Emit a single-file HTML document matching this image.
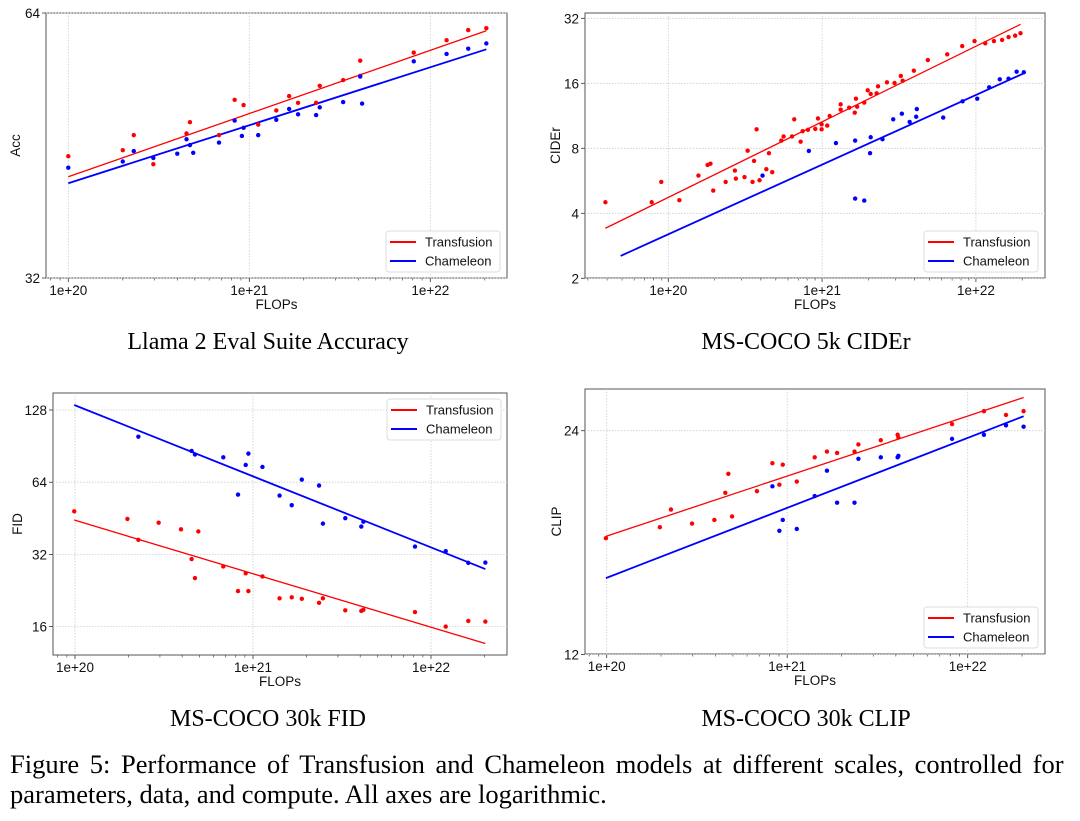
<!DOCTYPE html>
<html><head><meta charset="utf-8"><style>
body{margin:0;background:#fff;}
svg{display:block;font-family:"Liberation Sans",sans-serif;}
.cap{font-family:"Liberation Serif",serif;}
</style></head><body>
<svg id="fig" width="1080" height="821" viewBox="0 0 1080 821" xmlns="http://www.w3.org/2000/svg">
<text class="cap" x="268" y="349" font-size="24" text-anchor="middle">Llama 2 Eval Suite Accuracy</text>
<text class="cap" x="806" y="349" font-size="24" text-anchor="middle">MS-COCO 5k CIDEr</text>
<text class="cap" x="268" y="726" font-size="24" text-anchor="middle">MS-COCO 30k FID</text>
<text class="cap" x="806" y="726" font-size="24" text-anchor="middle">MS-COCO 30k CLIP</text>
<text id="cap1" class="cap" x="10" y="773" font-size="26.5" word-spacing="4">Figure 5:  Performance of Transfusion and Chameleon models at different scales, controlled for</text>
<text class="cap" x="10" y="803" font-size="26.5">parameters, data, and compute. All axes are logarithmic.</text>
</svg>
<script>
// ---- Panel 1: Llama accuracy ----
const accRedX=[1e20,2.0e20,2.3e20,2.95e20,4.5e20,4.7e20,6.8e20,8.3e20,9.3e20,1.12e21,1.41e21,1.66e21,1.86e21,2.34e21,2.45e21,3.3e21,4.1e21,4.1e21,8.1e21,1.23e22,1.62e22,2.04e22];
const accRedY=[44.0,44.7,46.5,43.1,46.7,48.1,46.5,51.0,50.3,47.8,49.6,51.5,50.6,50.6,52.9,53.7,56.5,54.3,57.7,59.6,61.2,61.5];
const accBlueX=[1e20,2.0e20,2.3e20,2.95e20,4.0e20,4.5e20,4.7e20,4.9e20,6.8e20,8.3e20,9.1e20,9.3e20,1.12e21,1.41e21,1.66e21,1.86e21,2.34e21,2.45e21,3.3e21,4.1e21,4.2e21,8.1e21,1.23e22,1.62e22,2.04e22];
const accBlueY=[42.7,43.4,44.6,43.8,44.3,46.0,45.3,44.4,45.6,48.3,46.4,47.4,46.5,48.4,49.8,49.1,49.0,50.0,50.7,54.2,50.5,56.4,57.5,58.3,59.1];
const accFitX=[1e20,2.04e22];
const accFitRed=[41.7,61.1];
const accFitBlue=[41.0,58.2];
const accYTicks=[32,64];
// ---- Panel 2: CIDEr ----
const ciderRedX=[3.9e19,7.8e19,9.0e19,1.18e20,1.57e20,1.80e20,1.88e20,1.96e20,2.36e20,2.71e20,2.75e20,3.13e20,3.28e20,3.53e20,3.61e20,3.75e20,3.92e20,4.34e20,4.51e20,4.74e20,5.43e20,5.62e20,6.37e20,6.59e20,7.25e20,7.47e20,8.09e20,9.03e20,9.4e20,9.93e20,9.93e20,1.08e21,1.12e21,1.32e21,1.32e21,1.50e21,1.63e21,1.66e21,1.69e21,1.88e21,1.98e21,2.07e21,2.26e21,2.31e21,2.64e21,2.96e21,3.25e21,3.34e21,3.95e21,4.87e21,6.51e21,8.15e21,9.8e21,1.15e22,1.31e22,1.48e22,1.63e22,1.80e22,1.95e22];
const ciderRedY=[4.50,4.50,5.59,4.60,5.98,6.70,6.79,5.10,5.59,6.31,5.79,5.89,7.80,5.59,6.99,9.80,5.69,6.40,7.59,6.20,8.69,9.08,9.08,10.9,8.58,9.60,9.74,9.84,11.0,9.80,10.33,10.19,11.29,12.78,12.08,12.34,11.70,13.58,12.47,13.03,14.84,14.28,14.38,15.50,16.17,16.05,17.30,16.46,18.31,20.5,21.8,23.8,25.1,24.5,25.1,25.4,26.2,26.6,27.3];
const ciderBlueX=[4.10e20,8.2e20,1.23e21,1.64e21,1.64e21,1.88e21,2.05e21,2.07e21,2.47e21,2.90e21,3.30e21,3.71e21,4.09e21,4.13e21,6.13e21,8.19e21,1.02e22,1.22e22,1.43e22,1.63e22,1.84e22,2.05e22];
const ciderBlueY=[5.98,7.78,8.46,8.69,4.68,4.58,7.59,9.00,8.81,10.9,11.57,10.6,11.2,12.16,11.1,13.2,13.58,15.33,16.7,16.8,18.1,18.0];
const ciderFitRedX=[3.9e19,1.95e22];
const ciderFitRed=[3.41,30.0];
const ciderFitBlueX=[4.9e19,2.05e22];
const ciderFitBlue=[2.54,17.8];
const ciderYTicks=[2,4,8,16,32];
// ---- Panel 3: FID ----
const fidRedX=[9.9e19,1.97e20,2.27e20,2.95e20,3.94e20,4.52e20,4.72e20,4.93e20,6.81e20,9.1e20,8.24e20,9.42e20,1.13e21,1.41e21,1.65e21,1.88e21,2.35e21,2.47e21,3.30e21,4.06e21,4.17e21,8.13e21,1.21e22,1.62e22,2.02e22];
const fidRedY=[48.4,45.0,36.8,43.4,40.7,30.6,25.5,39.9,28.5,26.7,22.5,22.5,25.9,21.0,21.2,20.9,20.1,21.0,18.7,18.6,18.8,18.4,16.0,16.9,16.8];
const fidBlueX=[2.27e20,4.52e20,4.72e20,6.81e20,9.1e20,9.42e20,1.13e21,8.24e20,1.41e21,1.65e21,1.88e21,2.35e21,2.47e21,3.30e21,4.06e21,4.17e21,8.13e21,1.21e22,1.62e22,2.02e22];
const fidBlueY=[99.1,86.4,83.5,81.3,75.5,84.2,74.1,56.8,56.3,51.3,65.6,62.0,43.0,45.3,41.8,43.8,34.5,33.0,29.5,29.6];
const fidFitX=[9.9e19,2.02e22];
const fidFitRed=[44.5,13.6];
const fidFitBlue=[134.3,27.8];
const fidYTicks=[16,32,64,128];
// ---- Panel 4: CLIP ----
const clipRedX=[9.9e19,1.97e20,2.27e20,2.97e20,3.95e20,4.54e20,4.72e20,4.95e20,6.8e20,8.28e20,9.05e20,9.45e20,1.13e21,1.42e21,1.66e21,1.89e21,2.36e21,2.48e21,3.30e21,4.09e21,4.13e21,8.19e21,1.23e22,1.63e22,2.04e22];
const clipRedY=[17.2,17.8,18.8,18.0,18.2,19.8,21.0,18.4,19.9,21.7,20.3,21.6,20.5,22.1,22.5,22.4,22.5,23.0,23.3,23.7,23.5,24.5,25.5,25.2,25.5];
const clipBlueX=[8.28e20,9.05e20,9.45e20,1.13e21,1.42e21,1.66e21,1.89e21,2.36e21,2.48e21,3.30e21,4.09e21,4.13e21,8.19e21,1.23e22,1.63e22,2.04e22];
const clipBlueY=[20.2,17.6,18.2,17.7,19.6,21.2,19.2,19.2,22.0,22.1,22.1,22.2,23.4,23.7,24.4,24.3];
const clipFitX=[9.9e19,2.04e22];
const clipFitRed=[17.3,26.6];
const clipFitBlue=[15.2,25.1];
const clipYTicks=[12,24];
const xTickExp=[20,21,22];

const NS="http://www.w3.org/2000/svg";
const svg=document.getElementById('fig');
function mk(tag,attrs,parent){const e=document.createElementNS(NS,tag);for(const k in attrs)e.setAttribute(k,attrs[k]);(parent||svg).appendChild(e);return e;}

function panel(c){
  const g=mk('g',{});
  
  
  const xs=f=>c.x20+(Math.log10(f)-20)*c.dec;
  const ys=v=>c.yRefPx-(Math.log2(v)-Math.log2(c.yRef))*c.oct;
  const frame=mk('rect',{x:c.L,y:c.T,width:c.R-c.L,height:c.B-c.T,fill:'#fff',stroke:'#555','stroke-width':1},g);
  
  
  xTickExp.forEach(e=>{
    const px=xs(Math.pow(10,e));
    mk('line',{x1:px,x2:px,y1:c.T,y2:c.B,stroke:'#ccc','stroke-width':0.8,'stroke-dasharray':'1.5,1.5'},g);
    mk('line',{x1:px,x2:px,y1:c.B,y2:c.B+4,stroke:'#333','stroke-width':0.8},g);
    const t=mk('text',{x:px,y:c.B+17,'font-size':13.5,'text-anchor':'middle',fill:'#111'},g);
    t.textContent='1e+'+e;
    
    
  });
  for(let e=19;e<=22;e++)for(let m=2;m<=9;m++){
    const px=xs(m*Math.pow(10,e));
    if(px>c.L&&px<c.R)mk('line',{x1:px,x2:px,y1:c.B,y2:c.B+2.5,stroke:'#333','stroke-width':0.6},g);
  }
  c.yTicks.forEach(v=>{
    const py=ys(v);
    mk('line',{x1:c.L,x2:c.R,y1:py,y2:py,stroke:'#ccc','stroke-width':0.8,'stroke-dasharray':'1.5,1.5'},g);
    mk('line',{x1:c.L-4,x2:c.L,y1:py,y2:py,stroke:'#333','stroke-width':0.8},g);
    const t=mk('text',{x:c.L-6,y:py+5,'font-size':13.5,'text-anchor':'end',fill:'#111'},g);
    t.textContent=String(v);
    
    
  });
  const xl=mk('text',{x:(c.L+c.R)/2,y:c.B+31,'font-size':13.5,'text-anchor':'middle',fill:'#111'},g);
  xl.textContent='FLOPs';
  
  
  const yl=mk('text',{x:0,y:0,'font-size':13.5,'text-anchor':'middle',fill:'#111',transform:`translate(${c.ylx},${(c.T+c.B)/2}) rotate(-90)`},g);
  yl.textContent=c.ylabel;
  
  
  const fr=mk('line',{x1:xs(c.fitRX[0]),y1:ys(c.fitR[0]),x2:xs(c.fitRX[1]),y2:ys(c.fitR[1]),stroke:'#f00','stroke-width':1.3},g);
  
  
  const fb=mk('line',{x1:xs(c.fitBX[0]),y1:ys(c.fitB[0]),x2:xs(c.fitBX[1]),y2:ys(c.fitB[1]),stroke:'#00f','stroke-width':1.8},g);
  
  
  c.rx.forEach((f,i)=>{
    const d=mk('circle',{cx:xs(f),cy:ys(c.ry[i]),r:2.2,fill:'#f00'},g);
    
    
  });
  c.bx.forEach((f,i)=>{
    const d=mk('circle',{cx:xs(f),cy:ys(c.by[i]),r:2.2,fill:'#00f'},g);
    
    
  });
  const lg=mk('g',{},g);
  
  
  mk('rect',{x:c.lgx,y:c.lgy,width:114,height:41,rx:3,fill:'#fff',stroke:'#ddd','stroke-width':1},lg);
  [['Transfusion','#f00'],['Chameleon','#00f']].forEach((p,i)=>{
    const yy=c.lgy+11+i*19;
    mk('line',{x1:c.lgx+4,x2:c.lgx+30,y1:yy,y2:yy,stroke:p[1],'stroke-width':2},lg);
    const t=mk('text',{x:c.lgx+39,y:yy+4.5,'font-size':13,fill:'#111'},lg);
    t.textContent=p[0];
    
    
  });
}

panel({name:'llama-accuracy-chart',L:46,R:507,T:13,B:278,x20:68.3,dec:181,yRef:64,yRefPx:13,oct:265,yTicks:accYTicks,ylabel:'Acc',ylx:20,
  rx:accRedX,ry:accRedY,bx:accBlueX,by:accBlueY,fitRX:accFitX,fitR:accFitRed,fitBX:accFitX,fitB:accFitBlue,lgx:386,lgy:231});
panel({name:'cider-chart',L:585,R:1045,T:13,B:278,x20:668.3,dec:153.8,yRef:32,yRefPx:18.3,oct:65,yTicks:ciderYTicks,ylabel:'CIDEr',ylx:560,
  rx:ciderRedX,ry:ciderRedY,bx:ciderBlueX,by:ciderBlueY,fitRX:ciderFitRedX,fitR:ciderFitRed,fitBX:ciderFitBlueX,fitB:ciderFitBlue,lgx:924,lgy:231});
panel({name:'fid-chart',L:53,R:507,T:393,B:655,x20:75,dec:178,yRef:128,yRefPx:410,oct:72.2,yTicks:fidYTicks,ylabel:'FID',ylx:22,
  rx:fidRedX,ry:fidRedY,bx:fidBlueX,by:fidBlueY,fitRX:fidFitX,fitR:fidFitRed,fitBX:fidFitX,fitB:fidFitBlue,lgx:387,lgy:399});
panel({name:'clip-chart',L:585,R:1045,T:389,B:654,x20:606.7,dec:180.5,yRef:24,yRefPx:430.7,oct:223.7,yTicks:clipYTicks,ylabel:'CLIP',ylx:561,
  rx:clipRedX,ry:clipRedY,bx:clipBlueX,by:clipBlueY,fitRX:clipFitX,fitR:clipFitRed,fitBX:clipFitX,fitB:clipFitBlue,lgx:924,lgy:607});
</script>
</body></html>
